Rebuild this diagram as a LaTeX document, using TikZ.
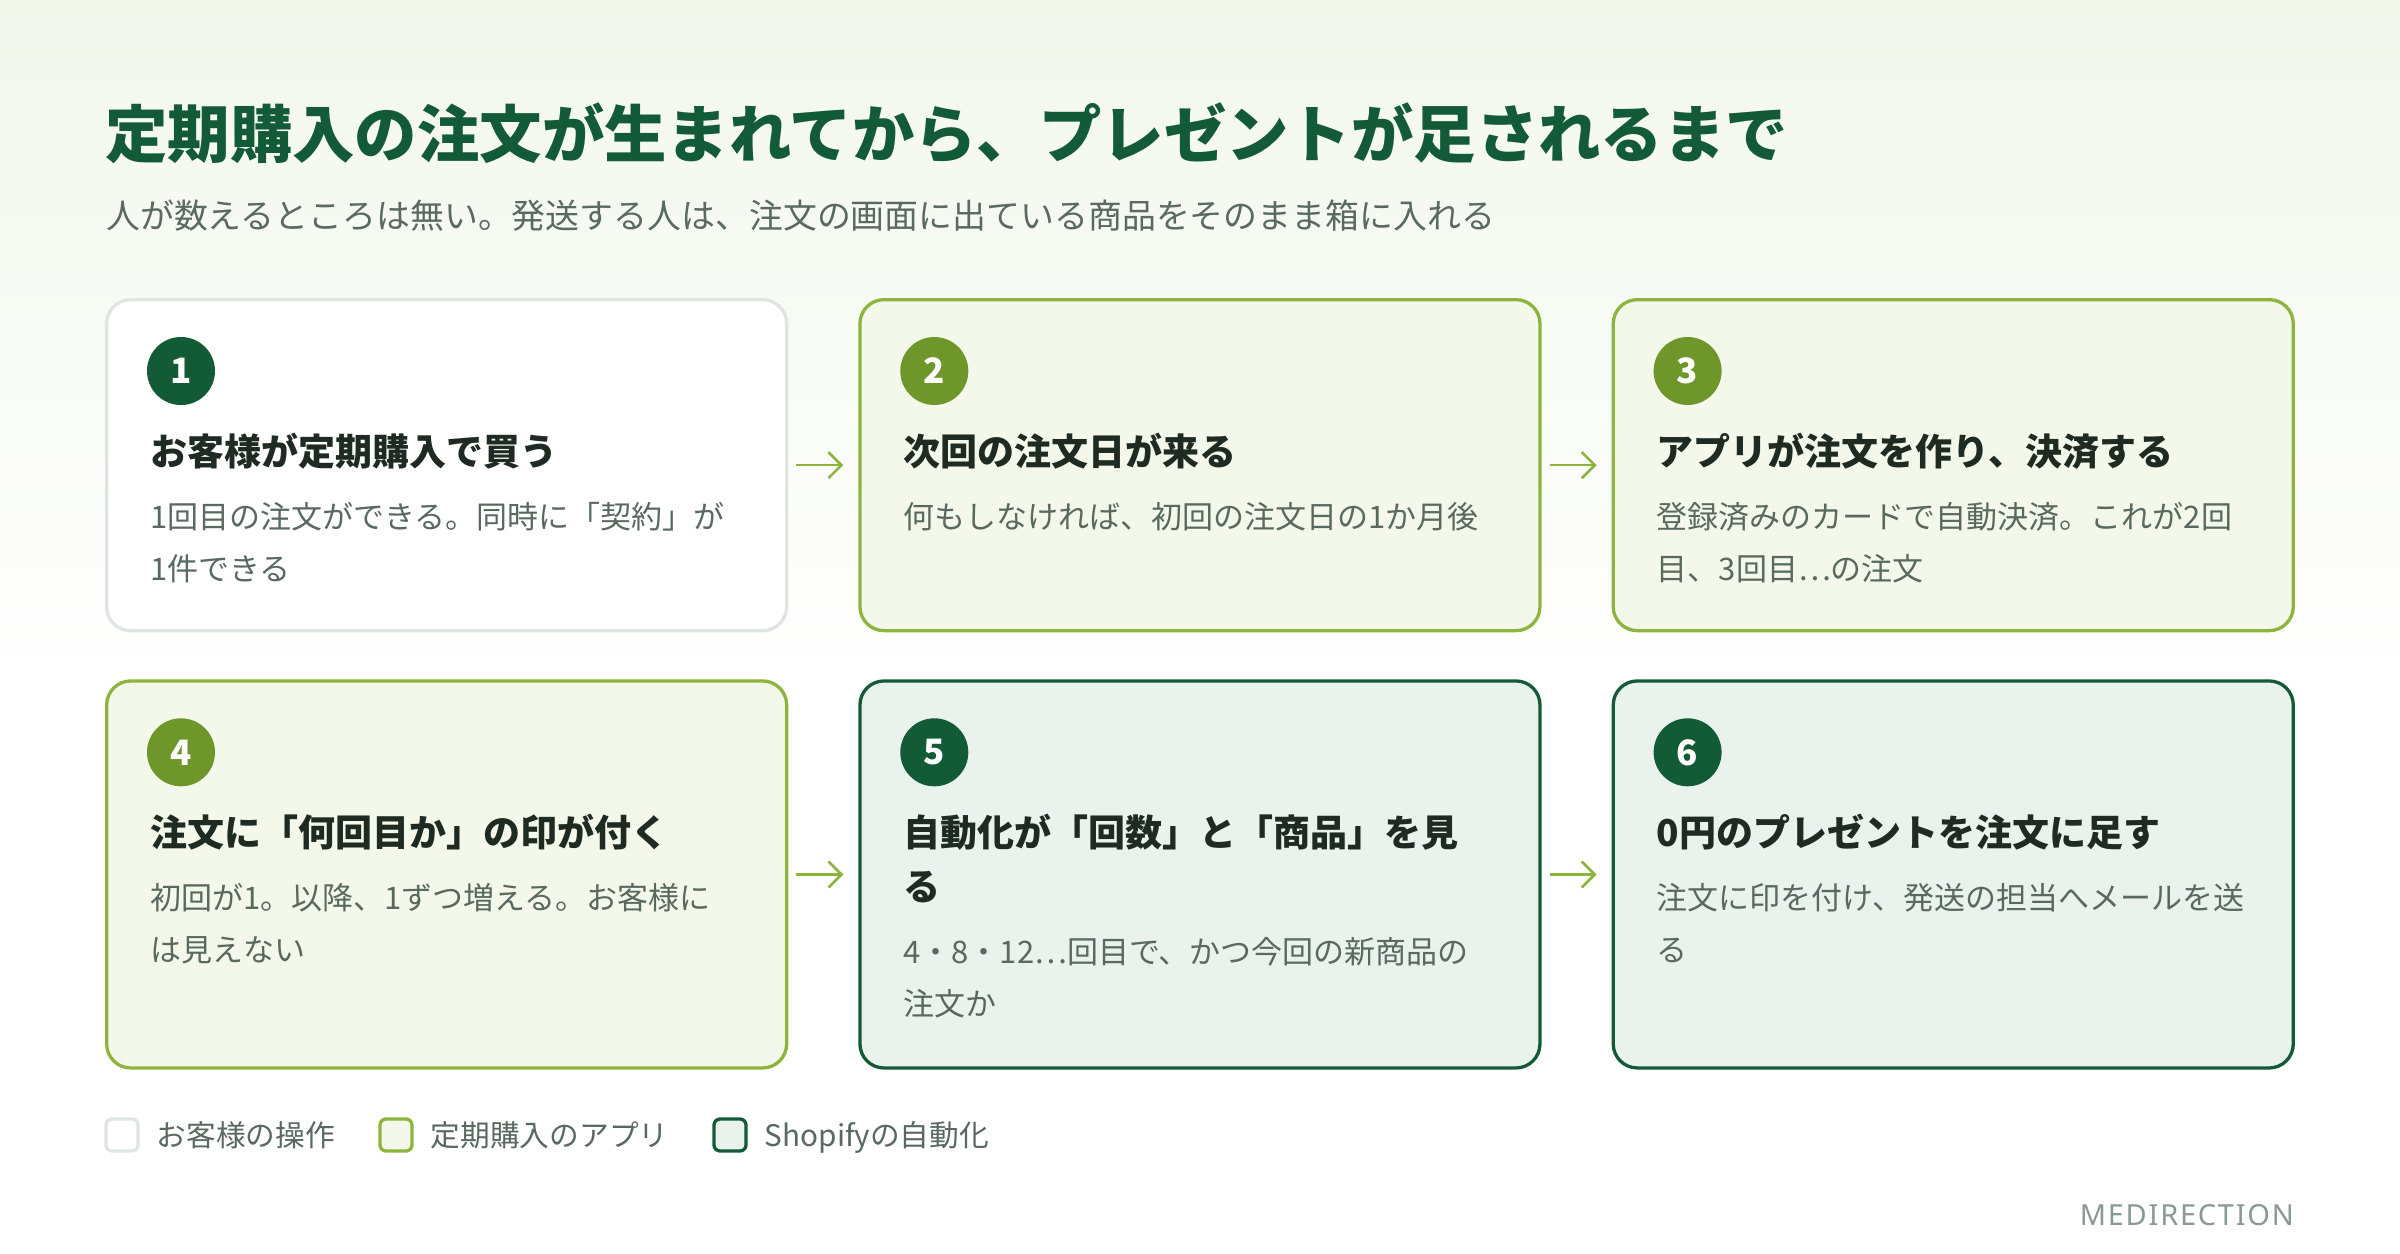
\documentclass[tikz,border=0pt]{standalone}
\usepackage{fontspec}
\setmainfont{Noto Sans CJK JP}
\newfontfamily\brandfont[LetterSpace=6]{Noto Sans}
\newcommand{\fullellipsis}{⋯}
\usetikzlibrary{positioning, arrows.meta}
\definecolor{bgtop}{HTML}{F2F7EC}
\definecolor{titlegreen}{HTML}{135A38}
\definecolor{subtext}{HTML}{5A6A60}
\definecolor{headtext}{HTML}{1E2A22}
\definecolor{bodytext}{HTML}{59695F}
\definecolor{userline}{HTML}{DFE6E2}
\definecolor{appline}{HTML}{8DB43D}
\definecolor{appfill}{HTML}{F4F8EB}
\definecolor{appdark}{HTML}{6E962A}
\definecolor{autoline}{HTML}{145A38}
\definecolor{autofill}{HTML}{EAF2ED}
\definecolor{autodark}{HTML}{135A37}
\definecolor{arrowgreen}{HTML}{8CB43C}
\definecolor{brandgray}{HTML}{8A9A91}

\begin{document}
\begin{tikzpicture}[x=1pt, y=-1pt,
  card/.style={rectangle, rounded corners=24pt, line width=3.3pt, minimum width=680pt, inner sep=0pt},
  usercard/.style={card, draw=userline, fill=white},
  appcard/.style={card, draw=appline, fill=appfill},
  autocard/.style={card, draw=autoline, fill=autofill},
  badge/.style={circle, minimum size=68pt, inner sep=0pt, text=white, font=\fontsize{35}{35}\selectfont\bfseries},
  heading/.style={anchor=base west, inner sep=0pt, text width=620pt, align=left, text=headtext, font=\fontsize{37}{54}\selectfont\bfseries},
  body/.style={anchor=base west, inner sep=0pt, text width=620pt, align=left, text=bodytext, font=\fontsize{31}{52}\selectfont},
  flow/.style={draw=arrowgreen, line width=2.6pt, -{Straight Barb[length=13pt, width=26pt]}, shorten <=8pt, shorten >=15pt},
  key/.style={rectangle, rounded corners=6pt, line width=3.3pt, minimum size=32pt, inner sep=0pt},
  keytext/.style={anchor=base west, inner sep=0pt, text=bodytext, font=\fontsize{29.7}{30}\selectfont}
]
\useasboundingbox (0,0) rectangle (2400,1253);
\fill[white] (0,0) rectangle (2400,1253);
\shade[top color=bgtop, bottom color=white] (0,0) rectangle (2400,700);

% title and lead
\node[anchor=base west, inner sep=0pt, text=titlegreen, font=\fontsize{62.4}{62}\selectfont\bfseries] (title) at (105,157) {定期購入の注文が生まれてから、プレゼントが足されるまで};
\node[anchor=base west, inner sep=0pt, text=subtext, font=\fontsize{33.9}{34}\selectfont] (lead) at (106,228) {人が数えるところは無い。発送する人は、注文の画面に出ている商品をそのまま箱に入れる};

% cards
\node[usercard, minimum height=331pt, anchor=north west] (s1) at (105,298) {};
\node[appcard, minimum height=331pt, right=70pt of s1] (s2) {};
\node[appcard, minimum height=331pt, right=70pt of s2] (s3) {};
\node[appcard, minimum height=387pt, below=47pt of s1] (s4) {};
\node[autocard, minimum height=387pt, right=70pt of s4] (s5) {};
\node[autocard, minimum height=387pt, right=70pt of s5] (s6) {};

% badges
\node[badge, fill=autodark] (n1) at ([xshift=76pt, yshift=-73pt]s1.north west) {1};
\node[badge, fill=appdark] (n2) at ([xshift=76pt, yshift=-73pt]s2.north west) {2};
\node[badge, fill=appdark] (n3) at ([xshift=76pt, yshift=-73pt]s3.north west) {3};
\node[badge, fill=appdark] (n4) at ([xshift=76pt, yshift=-73pt]s4.north west) {4};
\node[badge, fill=autodark] (n5) at ([xshift=76pt, yshift=-73pt]s5.north west) {5};
\node[badge, fill=autodark] (n6) at ([xshift=76pt, yshift=-73pt]s6.north west) {6};

% headings and texts
\node[heading] (h1) at ([xshift=45pt, yshift=-167pt]s1.north west) {お客様が定期購入で買う};
\node[body] (b1) at ([yshift=-63pt]h1.base west) {1回目の注文ができる。同時に「契約」が\\1件できる};
\node[heading] (h2) at ([xshift=45pt, yshift=-167pt]s2.north west) {次回の注文日が来る};
\node[body] (b2) at ([yshift=-63pt]h2.base west) {何もしなければ、初回の注文日の1か月後};
\node[heading] (h3) at ([xshift=45pt, yshift=-167pt]s3.north west) {アプリが注文を作り、決済する};
\node[body] (b3) at ([yshift=-63pt]h3.base west) {登録済みのカードで自動決済。これが2回\\目、3回目\fullellipsis の注文};
\node[heading] (h4) at ([xshift=45pt, yshift=-167pt]s4.north west) {注文に「何回目か」の印が付く};
\node[body] (b4) at ([yshift=-63pt]h4.base west) {初回が1。以降、1ずつ増える。お客様に\\は見えない};
\node[heading] (h5) at ([xshift=45pt, yshift=-167pt]s5.north west) {自動化が「回数」と「商品」を見\\る};
\node[body] (b5) at ([yshift=-117pt]h5.base west) {4・8・12\fullellipsis 回目で、かつ今回の新商品の\\注文か};
\node[heading] (h6) at ([xshift=45pt, yshift=-167pt]s6.north west) {0円のプレゼントを注文に足す};
\node[body] (b6) at ([yshift=-63pt]h6.base west) {注文に印を付け、発送の担当へメールを送\\る};

% arrows
\draw[flow] (s1) -- (s2);
\draw[flow] (s2) -- (s3);
\draw[flow] (s4) -- (s5);
\draw[flow] (s5) -- (s6);

% legend
\node[key, draw=userline, fill=white] (k1) at (122,1135) {};
\node[keytext] (k1t) at ([xshift=17pt, yshift=-11pt]k1.east) {お客様の操作};
\node[key, draw=appline, fill=appfill] (k2) at (396,1135) {};
\node[keytext] (k2t) at ([xshift=17pt, yshift=-11pt]k2.east) {定期購入のアプリ};
\node[key, draw=autoline, fill=autofill] (k3) at (730,1135) {};
\node[keytext] (k3t) at ([xshift=17pt, yshift=-11pt]k3.east) {Shopifyの自動化};

\node[anchor=base east, inner sep=0pt, text=brandgray, font=\brandfont\fontsize{29}{29}\selectfont] (brand) at (2294,1225) {MEDIRECTION};
\end{tikzpicture}
\end{document}
